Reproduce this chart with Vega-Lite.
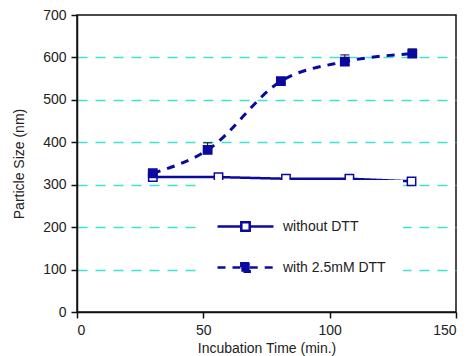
{
  "$schema": "https://vega.github.io/schema/vega-lite/v6.json",
  "width": 379,
  "height": 297,
  "autosize": "none",
  "padding": {"left": 77, "top": 15, "right": 12, "bottom": 44},
  "config": {
    "font": "Liberation Sans",
    "view": {"stroke": "#111", "strokeWidth": 1.5},
    "axis": {
      "domainColor": "#111",
      "domainWidth": 1.5,
      "tickColor": "#111",
      "tickWidth": 1.5,
      "tickSize": 6,
      "labelFontSize": 14,
      "labelColor": "#222",
      "titleFontSize": 14,
      "titleFontWeight": "normal",
      "titleColor": "#222"
    }
  },
  "data": {
    "values": [
      {"series": "without DTT", "time": 30, "size": 318},
      {"series": "without DTT", "time": 56, "size": 318},
      {"series": "without DTT", "time": 82.7, "size": 314},
      {"series": "without DTT", "time": 107.8, "size": 314},
      {"series": "without DTT", "time": 132.4, "size": 308},
      {"series": "with 2.5mM DTT", "time": 30, "size": 327, "hi": 330},
      {"series": "with 2.5mM DTT", "time": 51.7, "size": 382, "hi": 399},
      {"series": "with 2.5mM DTT", "time": 80.7, "size": 544, "hi": 549},
      {"series": "with 2.5mM DTT", "time": 106, "size": 590, "hi": 606},
      {"series": "with 2.5mM DTT", "time": 132.7, "size": 609, "hi": 620}
    ]
  },
  "encoding": {
    "x": {
      "field": "time",
      "type": "quantitative",
      "scale": {"domain": [0, 150], "nice": false},
      "axis": {"values": [0, 50, 100, 150], "grid": false, "title": "Incubation Time (min.)", "labelPadding": 5, "titlePadding": 4}
    },
    "y": {
      "field": "size",
      "type": "quantitative",
      "scale": {"domain": [0, 700], "nice": false},
      "axis": {
        "values": [0, 100, 200, 300, 400, 500, 600, 700],
        "grid": true,
        "gridColor": "#3fe3cf",
        "gridDash": [10, 8],
        "gridWidth": 1.5,
        "gridOpacity": {"condition": {"test": "datum.value === 0 || datum.value === 700", "value": 0}, "value": 1},
        "title": "Particle Size (nm)",
        "labelPadding": 5,
        "titlePadding": 16
      }
    }
  },
  "layer": [
    {
      "transform": [{"filter": "datum.series === 'without DTT'"}],
      "mark": {"type": "line", "strokeWidth": 2.5, "interpolate": "linear"},
      "encoding": {
        "color": {
          "field": "series",
          "type": "nominal",
          "scale": {"domain": ["without DTT", "with 2.5mM DTT"], "range": ["#0a0aa0", "#0a0aa0"]},
          "legend": {
            "orient": "none",
            "legendX": 122,
            "legendY": 165,
            "title": null,
            "fillColor": "white",
            "padding": 17,
            "symbolType": "M-1,0H-0.15M0.15,0H1M-0.15,-0.15H0.15V0.15H-0.15Z",
            "symbolSize": 3136,
            "symbolStrokeWidth": 2.5,
            "labelFontSize": 14,
            "labelColor": "#222",
            "labelOffset": 8,
            "rowPadding": 2,
            "encode": {
              "symbols": {
                "update": {
                  "fill": {"signal": "datum.value === 'without DTT' ? 'white' : '#0a0aa0'"},
                  "opacity": {"value": 1}
                }
              }
            }
          }
        },
        "strokeDash": {
          "field": "series",
          "type": "nominal",
          "scale": {"domain": ["without DTT", "with 2.5mM DTT"], "range": [[1, 0], [8, 7]]},
          "legend": null
        }
      }
    },
    {
      "transform": [{"filter": "datum.series === 'with 2.5mM DTT'"}],
      "mark": {"type": "line", "strokeWidth": 3, "interpolate": "monotone"},
      "encoding": {
        "color": {"field": "series", "type": "nominal"},
        "strokeDash": {"field": "series", "type": "nominal"}
      }
    },
    {
      "transform": [{"filter": "isValid(datum.hi)"}],
      "mark": {"type": "rule", "color": "#111", "strokeWidth": 1},
      "encoding": {"y2": {"field": "hi"}}
    },
    {
      "transform": [{"filter": "isValid(datum.hi)"}],
      "mark": {"type": "tick", "orient": "horizontal", "color": "#111", "size": 9, "thickness": 1.5},
      "encoding": {"y": {"field": "hi", "type": "quantitative"}}
    },
    {
      "mark": {"type": "point", "shape": "square", "filled": true, "stroke": "#0a0aa0", "strokeWidth": 1.5, "size": 70, "opacity": 1},
      "encoding": {
        "fill": {
          "field": "series",
          "type": "nominal",
          "scale": {"domain": ["without DTT", "with 2.5mM DTT"], "range": ["white", "#0a0aa0"]},
          "legend": null
        }
      }
    }
  ]
}
